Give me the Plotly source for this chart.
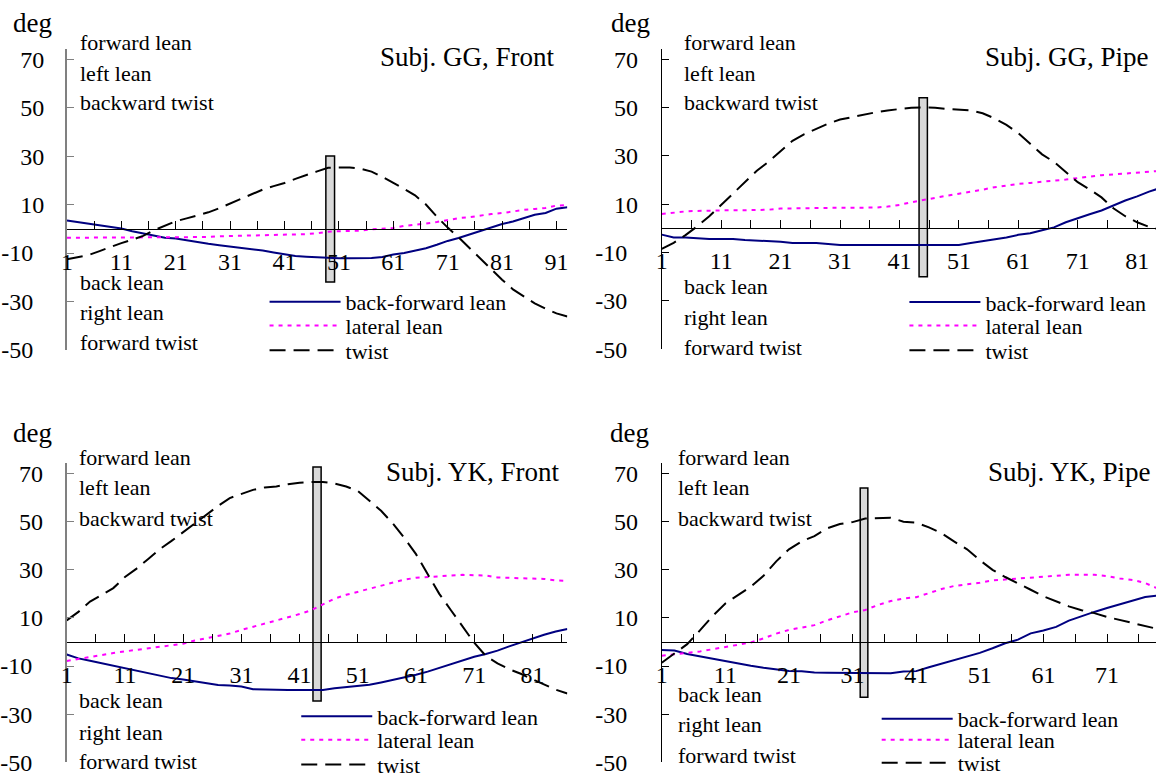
import plotly.graph_objects as go

# ---------------- data ----------------
gg_front_cat = [1, 3, 5, 7, 9, 11, 13, 15, 17, 19, 21, 23, 25, 27, 29, 31, 33, 35, 37, 39,
                41, 43, 45, 47, 49, 51, 53, 55, 57, 59, 61, 63, 65, 67, 69, 71, 73, 75, 77, 79,
                81, 83, 85, 87, 89, 91, 93]
gg_front_bf = [3.4, 2.8, 2.2, 1.5, 0.8, 0.1, -1.0, -2.0, -3.0, -3.7,
               -4.0, -4.8, -5.5, -6.2, -6.8, -7.3, -7.8, -8.4, -9.0, -9.8,
               -10.6, -11.2, -11.5, -11.7, -12.2, -12.2, -12.2, -12.2, -12.0, -11.6,
               -10.6, -10.0, -9.0, -8.0, -6.6, -5.0, -3.8, -2.4, -0.8, 0.6,
               2.0, 3.0, 4.5, 5.8, 6.5, 8.3, 8.9]
gg_front_lat = [-3.7, -3.7, -3.7, -3.7, -3.7, -3.7, -3.7, -3.7, -3.6, -3.6,
                -3.6, -3.6, -3.5, -3.4, -3.1, -3.0, -3.0, -2.9, -2.8, -2.7,
                -2.5, -2.4, -2.2, -1.8, -1.2, -1.0, -1.0, -0.8, -0.2, 0.0,
                0.3, 1.2, 1.6, 2.2, 2.8, 3.6, 4.4, 4.8, 5.6, 6.1,
                6.5, 7.3, 7.8, 8.2, 8.6, 9.6, 9.8]
gg_front_twist = [-12.6, -11.8, -10.8, -9.2, -7.5, -5.9, -4.5, -2.9, -0.6, 1.3,
                  3.1, 4.3, 5.4, 6.8, 8.5, 10.5, 12.3, 14.5, 16.2, 17.6,
                  18.9, 20.6, 22.3, 23.7, 25.2, 25.3, 25.3, 24.8, 23.6, 21.4,
                  19.0, 16.5, 13.8, 10.0, 5.0, 0.5, -3.5, -7.9, -12.4, -16.7,
                  -21.0, -25.0, -28.0, -30.8, -33.0, -34.9, -36.2]

gg_pipe_cat = [1, 3, 5, 7, 9, 11, 13, 15, 17, 19, 21, 23, 25, 27, 29, 31, 33, 35, 37, 39,
               41, 43, 45, 47, 49, 51, 53, 55, 57, 59, 61, 63, 65, 67, 69, 71, 73, 75, 77, 79,
               81, 83, 85]
gg_pipe_bf = [-2.6, -3.8, -3.8, -4.2, -4.4, -4.4, -4.4, -4.8, -5.1, -5.1,
              -5.6, -6.1, -6.1, -6.1, -6.5, -6.9, -6.9, -6.9, -6.9, -6.9,
              -6.9, -6.9, -6.9, -6.9, -6.9, -6.9, -6.1, -5.3, -4.8, -3.8,
              -2.7, -2.0, -0.8, 0.4, 2.5, 4.0, 5.8, 7.4, 9.6, 11.5,
              13.2, 15.2, 16.8]
gg_pipe_lat = [5.9, 6.6, 7.0, 7.2, 7.4, 7.5, 7.5, 7.5, 7.6, 7.7,
               8.2, 8.3, 8.4, 8.4, 8.5, 8.5, 8.5, 8.5, 8.6, 9.0,
               9.7, 10.8, 11.8, 12.7, 13.5, 14.3, 15.0, 16.0, 17.0, 17.8,
               18.4, 18.8, 19.2, 19.6, 20.2, 20.8, 21.5, 22.0, 22.3, 22.7,
               23.0, 23.5, 23.8]
gg_pipe_twist = [-8.5, -6.0, -2.8, 0.9, 5.0, 9.7, 14.6, 19.3, 23.8, 27.6,
                 31.8, 36.2, 39.0, 41.3, 43.3, 45.0, 46.1, 46.9, 48.0, 48.8,
                 49.4, 49.9, 50.0, 49.9, 49.4, 49.1, 48.8, 47.6, 45.5, 42.8,
                 39.4, 35.0, 30.6, 27.5, 23.5, 19.1, 16.1, 12.8, 8.3, 5.0,
                 2.5, 0.6, -0.6]

yk_front_cat = [1, 3, 5, 7, 9, 11, 13, 15, 17, 19, 21, 23, 25, 27, 29, 31, 33, 35, 37, 39,
                41, 43, 45, 47, 49, 51, 53, 55, 57, 59, 61, 63, 65, 67, 69, 71, 73, 75, 77, 79,
                81, 83, 85, 87]
yk_front_bf = [-5.2, -6.8, -7.8, -8.8, -9.8, -10.7, -11.9, -13.0, -14.0, -15.0,
               -15.6, -16.4, -17.4, -17.9, -18.1, -18.5, -19.6, -19.8, -19.9, -19.9,
               -19.9, -19.9, -19.9, -19.2, -18.8, -18.5, -17.8, -16.8, -15.8, -14.7,
               -13.6, -12.3, -10.8, -9.4, -7.9, -6.1, -5.0, -3.6, -1.8, -0.1,
               1.4, 3.0, 4.4, 5.4]
yk_front_lat = [-7.9, -7.0, -6.1, -5.3, -4.6, -3.9, -3.3, -2.6, -2.0, -1.4,
                -0.7, 0.6, 1.5, 2.5, 3.5, 5.0, 6.3, 7.6, 8.9, 10.3,
                11.6, 13.2, 15.6, 18.0, 19.6, 20.8, 22.0, 23.2, 24.7, 25.9,
                26.7, 26.9, 27.3, 27.6, 27.9, 27.9, 27.6, 26.8, 26.7, 26.6,
                26.5, 26.2, 25.6, 25.4]
yk_front_twist = [9.0, 12.5, 16.8, 19.5, 22.4, 27.0, 30.5, 34.5, 38.6, 42.0,
                  45.6, 49.3, 53.0, 56.5, 59.8, 61.4, 63.2, 64.2, 64.6, 65.5,
                  66.2, 66.5, 66.5, 65.8, 64.6, 62.8, 58.8, 54.5, 49.3, 43.2,
                  36.5, 28.0, 20.0, 13.2, 6.5, -0.3, -5.8, -8.9, -11.3, -13.2,
                  -15.5, -17.8, -19.8, -21.4]

yk_pipe_cat = [1, 3, 5, 7, 9, 11, 13, 15, 17, 19, 21, 23, 25, 27, 29, 31, 33, 35, 37, 39,
               41, 43, 45, 47, 49, 51, 53, 55, 57, 59, 61, 63, 65, 67, 69, 71, 73, 75, 77, 79]
yk_pipe_bf = [-3.3, -3.5, -5.0, -6.0, -7.0, -8.2, -9.1, -9.9, -10.7, -11.4,
              -12.0, -12.2, -12.7, -12.8, -12.9, -13.0, -13.0, -13.0, -13.0, -12.3,
              -12.1, -10.5, -9.0, -7.3, -6.0, -4.5, -2.6, -0.5, 1.0, 3.6,
              4.8, 6.3, 8.9, 10.8, 12.5, 14.1, 15.7, 17.3, 18.7, 19.3]
yk_pipe_lat = [-5.7, -5.2, -4.6, -3.9, -3.0, -2.1, -1.2, -0.2, 1.5, 3.5,
               5.0, 5.9, 7.0, 9.0, 10.8, 12.3, 13.3, 15.4, 17.0, 18.1,
               18.6, 20.3, 22.0, 23.3, 23.8, 24.6, 25.6, 26.0, 26.5, 27.0,
               27.2, 27.6, 27.9, 27.9, 27.9, 27.4, 26.4, 25.8, 24.5, 22.2]
yk_pipe_twist = [-8.6, -4.9, -0.9, 4.8, 10.8, 16.0, 19.6, 23.0, 27.5, 33.5,
                 38.5, 41.8, 44.0, 47.2, 49.0, 49.8, 51.3, 51.6, 51.6, 50.0,
                 49.6, 47.6, 45.2, 41.7, 38.5, 34.0, 30.0, 27.0, 24.2, 21.7,
                 19.0, 17.0, 14.8, 13.2, 12.0, 10.4, 9.2, 8.0, 6.9, 5.4]

# marker rectangles (category from, category to, deg bottom, deg top)
gg_front_marker = [48.6, 50.2, -22.0, 30.0]
gg_pipe_marker = [44.3, 45.7, -20.0, 54.0]
yk_front_marker = [43.3, 44.7, -24.5, 72.7]
yk_pipe_marker = [32.2, 33.4, -23.0, 64.0]

panel_titles = ["Subj. GG, Front", "Subj. GG, Pipe", "Subj. YK, Front", "Subj. YK, Pipe"]
series_names = ["back-forward lean", "lateral lean", "twist"]
upper_labels = ["forward lean", "left lean", "backward twist"]
lower_labels = ["back lean", "right lean", "forward twist"]
unit_label = "deg"

y_tickvals = [-50, -30, -10, 10, 30, 50, 70]
y_ticktext = ["-50\u00a0\u2009", "-30\u00a0\u2009", "-10\u00a0\u2009", "10", "30", "50", "70"]
x_tickvals_93 = [1, 6, 11, 16, 21, 26, 31, 36, 41, 46, 51, 56, 61, 66, 71, 76, 81, 86, 91]
x_ticktext_93 = ["1", "", "11", "", "21", "", "31", "", "41", "", "51", "", "61", "", "71", "", "81", "", "91"]
x_tickvals_86 = [1, 6, 11, 16, 21, 26, 31, 36, 41, 46, 51, 56, 61, 66, 71, 76, 81, 86]
x_ticktext_86 = ["1", "", "11", "", "21", "", "31", "", "41", "", "51", "", "61", "", "71", "", "81", ""]

# ---------------- layout helpers ----------------
W, H = 1157, 779          # reference picture size (coordinates below are in its pixels)
FIG_H = 791               # figure height (the page photo is fitted into 779 px)
FONT = "Liberation Serif, Times New Roman, serif"


def fx(px):
    return px / W


def fy(py):
    return 1 - py / H


Y_RANGE = [-50, 74.4]

panels = [
    dict(cat=gg_front_cat, bf=gg_front_bf, lat=gg_front_lat, tw=gg_front_twist,
         marker=gg_front_marker, title=panel_titles[0],
         xdom=[fx(57.5), fx(562.7)], xr=[1, 93], ydom=[fy(349.3), fy(46.7)],
         tv=x_tickvals_93, tt=x_ticktext_93, axcol="#808080", axw=2, ystand=16,
         deg=(1, 21), up_x=69, up_y=[40.7, 71.7, 100.7], lo_y=[281.7, 311.7, 341.7],
         title_xy=(552, 55), leg_x=264, leg_y=[302, 326, 350.7]),
    dict(cat=gg_pipe_cat, bf=gg_pipe_bf, lat=gg_pipe_lat, tw=gg_pipe_twist,
         marker=gg_pipe_marker, title=panel_titles[1],
         xdom=[fx(658), 1.0], xr=[1, 84.17], ydom=[fy(348.5), fy(46.7)],
         tv=x_tickvals_93, tt=x_ticktext_93, axcol="#000000", axw=1, ystand=18,
         deg=(605, 21), up_x=678, up_y=[40.7, 71.7, 100.7], lo_y=[286, 316.7, 346.7],
         title_xy=(1152, 55), leg_x=910, leg_y=[302.3, 326, 350.7]),
    dict(cat=yk_front_cat, bf=yk_front_bf, lat=yk_front_lat, tw=yk_front_twist,
         marker=yk_front_marker, title=panel_titles[2],
         xdom=[fx(57.3), fx(562.7)], xr=[1, 87], ydom=[fy(763.3), fy(462.7)],
         tv=x_tickvals_86, tt=x_ticktext_86, axcol="#808080", axw=2, ystand=17,
         deg=(1, 433), up_x=68, up_y=[457.3, 487.3, 518.3], lo_y=[701.7, 733.3, 762.7],
         title_xy=(557, 472), leg_x=296, leg_y=[718.3, 741.7, 766.7]),
    dict(cat=yk_pipe_cat, bf=yk_pipe_bf, lat=yk_pipe_lat, tw=yk_pipe_twist,
         marker=yk_pipe_marker, title=panel_titles[3],
         xdom=[fx(658), 1.0], xr=[1, 78.7], ydom=[fy(763.3), fy(462.7)],
         tv=x_tickvals_86, tt=x_ticktext_86, axcol="#000000", axw=1, ystand=18,
         deg=(604, 433), up_x=672, up_y=[457.3, 487.3, 518.3], lo_y=[695, 725, 756],
         title_xy=(1154, 472), leg_x=882, leg_y=[720.7, 741.7, 765]),
]

styles = [
    dict(color="#000080", width=2, dash="solid"),
    dict(color="#ff00ff", width=2, dash="4px,5px"),
    dict(color="#000000", width=2, dash="16px,8px"),
]

fig = go.Figure()
layout = dict(
    width=W, height=FIG_H, margin=dict(l=0, r=0, t=0, b=0),
    paper_bgcolor="white", plot_bgcolor="rgba(0,0,0,0)",
    font=dict(family=FONT, size=22, color="black"),
    shapes=[], annotations=[],
)

legend_idx = 0
for i, p in enumerate(panels):
    n = "" if i == 0 else str(i + 1)
    xa, ya = "x" + n, "y" + n
    series = [p["bf"], p["lat"], p["tw"]]
    for k, vals in enumerate(series):
        legend_idx += 1
        lname = "legend" if legend_idx == 1 else "legend%d" % legend_idx
        fig.add_trace(go.Scatter(
            x=p["cat"], y=vals, mode="lines", name=series_names[k],
            line=styles[k], xaxis=xa, yaxis=ya, legend=lname, showlegend=True,
            hoverinfo="skip"))
        layout[lname] = dict(
            x=fx(p["leg_x"] - 7), y=fy(p["leg_y"][k] - 1), xanchor="left", yanchor="middle",
            bgcolor="rgba(0,0,0,0)", borderwidth=0, itemwidth=71,
            font=dict(family=FONT, size=22, color="black"))

    zero_pos = p["ydom"][0] + (0 - Y_RANGE[0]) / (Y_RANGE[1] - Y_RANGE[0]) * (p["ydom"][1] - p["ydom"][0])
    layout["xaxis" + n] = dict(
        domain=p["xdom"], range=p["xr"], anchor="free", position=zero_pos,
        showline=True, linecolor="black", linewidth=1,
        ticks="inside", ticklen=8, tickwidth=1, tickcolor="black",
        tickmode="array", tickvals=p["tv"], ticktext=p["tt"],
        tickfont=dict(family=FONT, size=24, color="black"), ticklabelstandoff=11,
        showgrid=False, zeroline=False, fixedrange=True)
    layout["yaxis" + n] = dict(
        domain=p["ydom"], range=Y_RANGE, anchor=xa,
        showline=True, linecolor=p["axcol"], linewidth=p["axw"],
        ticks="inside", ticklen=7, tickwidth=1, tickcolor=p["axcol"],
        tickmode="array", tickvals=y_tickvals, ticktext=y_ticktext,
        tickfont=dict(family=FONT, size=24, color="black"), ticklabelstandoff=p["ystand"],
        showgrid=False, zeroline=False, fixedrange=True)

    m = p["marker"]
    layout["shapes"].append(dict(
        type="rect", xref=xa, yref=ya, x0=m[0], x1=m[1], y0=m[2], y1=m[3],
        fillcolor="#d9d9d9", line=dict(color="black", width=1.5), layer="below"))

    ann = layout["annotations"]
    ann.append(dict(text=unit_label, xref="paper", yref="paper", x=fx(p["deg"][0]), y=fy(p["deg"][1]),
                    xanchor="left", yanchor="middle", showarrow=False,
                    font=dict(family=FONT, size=27, color="black")))
    for t, yy in zip(upper_labels, p["up_y"]):
        ann.append(dict(text=t, xref="paper", yref="paper", x=fx(p["up_x"]), y=fy(yy),
                        xanchor="left", yanchor="middle", showarrow=False,
                        font=dict(family=FONT, size=22, color="black")))
    for t, yy in zip(lower_labels, p["lo_y"]):
        ann.append(dict(text=t, xref="paper", yref="paper", x=fx(p["up_x"]), y=fy(yy),
                        xanchor="left", yanchor="middle", showarrow=False,
                        font=dict(family=FONT, size=22, color="black")))
    ann.append(dict(text=p["title"], xref="paper", yref="paper", x=fx(p["title_xy"][0]),
                    y=fy(p["title_xy"][1]), xanchor="right", yanchor="middle", showarrow=False,
                    font=dict(family=FONT, size=27, color="black")))

fig.update_layout(**layout)
fig.write_html(
    "out.html",
    config={"displayModeBar": False},
    post_script=(
        "document.documentElement.style.margin='0';document.documentElement.style.overflow='hidden';"
        "document.body.style.margin='0';document.body.style.padding='0';document.body.style.overflow='hidden';"
    ),
)
